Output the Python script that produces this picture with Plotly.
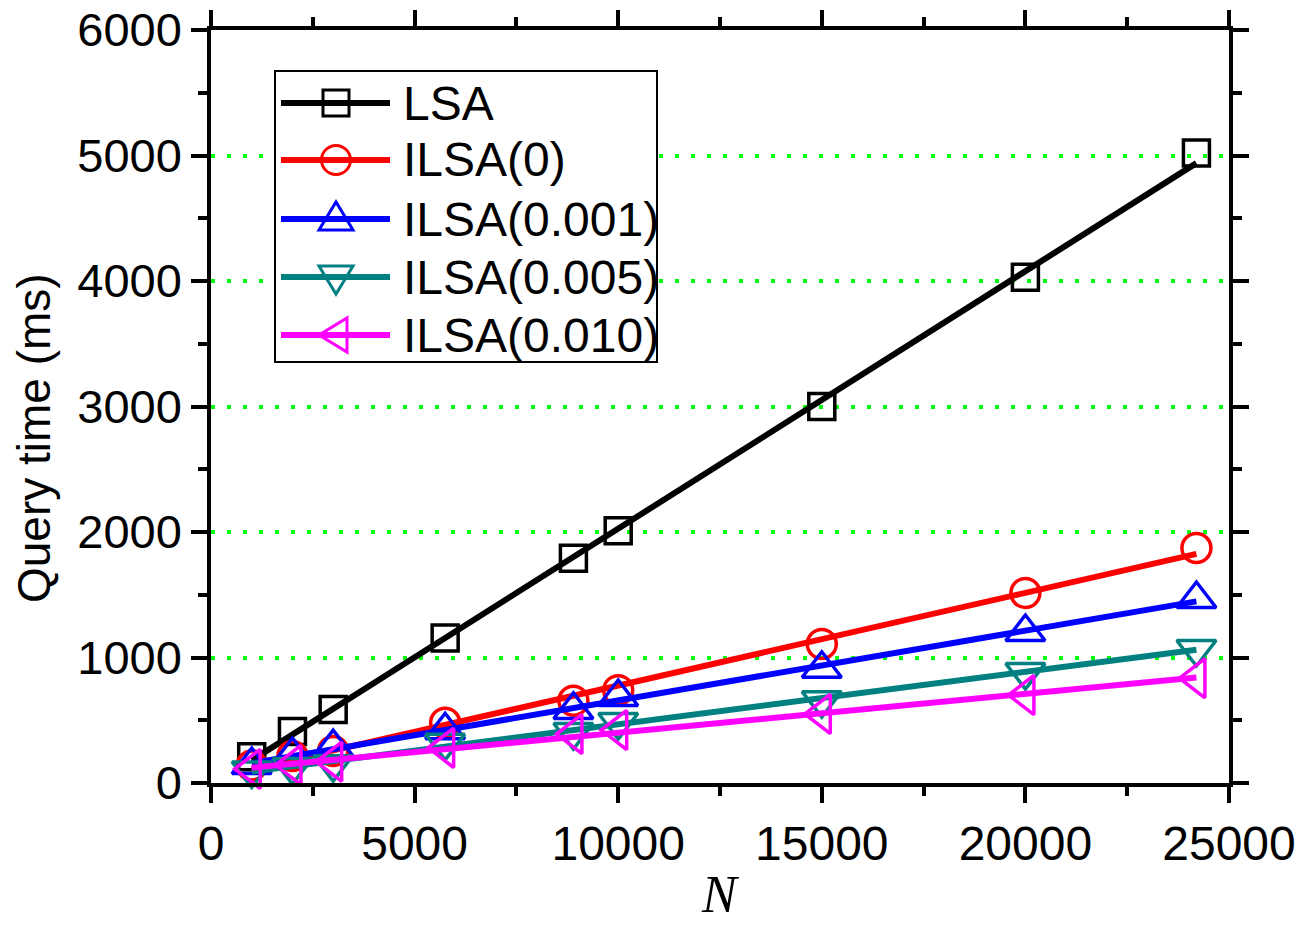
import numpy as np
import plotly.graph_objects as go

# ---- data -------------------------------------------------------------
N = [1000, 2000, 3000, 5750, 8900, 10000, 15000, 20000, 24200]

LSA = [210, 410, 585, 1155, 1790, 2010, 3000, 4030, 5020]
ILSA_0 = [140, 215, 255, 480, 655, 740, 1108, 1514, 1873]
ILSA_0001 = [143, 223, 285, 420, 582, 685, 910, 1203, 1466]
ILSA_0005 = [100, 127, 150, 320, 406, 486, 660, 884, 1068]
ILSA_0010 = [112, 143, 170, 280, 390, 422, 550, 701, 835]

SERIES_NAMES = ["LSA", "ILSA(0)", "ILSA(0.001)", "ILSA(0.005)", "ILSA(0.010)"]
X_TICKS = [0, 5000, 10000, 15000, 20000, 25000]
Y_TICKS = [0, 1000, 2000, 3000, 4000, 5000, 6000]

# ---- styles -----------------------------------------------------------
COLORS = ["#000000", "#FF0000", "#0000FF", "#008080", "#FF00FF"]
SYMBOLS = ["square-open", "circle-open", "triangle-up-open",
           "triangle-down-open", "triangle-left-open"]
SIZES = [26, 29, 34, 34, 34]
FONT = "Liberation Sans, Arial"

W, H = 1313, 926
ML, MR, MT, MB = 211, 84, 30, 143
PW, PH = W - ML - MR, H - MT - MB

fig = go.Figure()

values = [LSA, ILSA_0, ILSA_0001, ILSA_0005, ILSA_0010]
for name, vals, col, sym, sz in zip(SERIES_NAMES, values, COLORS, SYMBOLS, SIZES):
    # least-squares trend line over the measured range
    coef = np.polyfit(N, vals, 1)
    xs = [min(N), max(N)]
    fig.add_trace(go.Scatter(
        x=xs, y=list(np.polyval(coef, xs)), mode="lines",
        line=dict(color=col, width=6), showlegend=False, hoverinfo="skip"))
    fig.add_trace(go.Scatter(
        x=N, y=vals, mode="markers", name=name,
        marker=dict(symbol=sym, size=sz, color=col, line=dict(width=3.5, color=col)),
        showlegend=False, cliponaxis=False))

# ---- hand-drawn legend box (pixel layout inside the plot area) ---------
def px(xp):
    return (xp - ML) / PW

def py(yp):
    return (H - MB - yp) / PH

shapes = [dict(type="rect", xref="paper", yref="paper",
               x0=px(275), x1=px(657), y0=py(362), y1=py(71),
               fillcolor="white", line=dict(color="black", width=2), layer="above")]

row_y = [103, 160, 219, 277, 335]
line_x0, line_x1, mark_x, text_x = 281, 390, 336, 401

annotations = []
for i, (name, col) in enumerate(zip(SERIES_NAMES, COLORS)):
    yy = py(row_y[i])
    shapes.append(dict(type="line", xref="paper", yref="paper",
                       x0=px(line_x0), x1=px(line_x1), y0=yy, y1=yy,
                       line=dict(color=col, width=6), layer="above"))
    common = dict(xref="paper", yref="paper", xsizemode="pixel", ysizemode="pixel",
                  xanchor=px(mark_x), yanchor=yy, layer="above",
                  line=dict(color=col, width=3))
    if i == 0:
        shapes.append(dict(type="rect", x0=-13, x1=13, y0=-13, y1=13, **common))
    elif i == 1:
        shapes.append(dict(type="circle", x0=-14.5, x1=14.5, y0=-14.5, y1=14.5, **common))
    elif i == 2:
        shapes.append(dict(type="path", path="M-17,-11 L17,-11 L0,17 Z", **common))
    elif i == 3:
        shapes.append(dict(type="path", path="M-17,11 L17,11 L0,-17 Z", **common))
    else:
        shapes.append(dict(type="path", path="M11,-17 L11,17 L-17,0 Z", **common))
    annotations.append(dict(xref="paper", yref="paper", x=px(text_x), y=yy,
                            text=name, showarrow=False, xanchor="left", yanchor="middle",
                            font=dict(family=FONT, size=48, color="black")))

# axis titles placed as annotations
annotations.append(dict(xref="paper", yref="paper", x=px(34), y=py(438),
                        text="Query time (ms)", textangle=-90, showarrow=False,
                        xanchor="center", yanchor="middle",
                        font=dict(family=FONT, size=46, color="black")))
annotations.append(dict(xref="paper", yref="paper", x=0.5, y=py(894),
                        text="<i>N</i>", showarrow=False, borderpad=0,
                        xanchor="center", yanchor="middle",
                        font=dict(family="Liberation Serif, Times New Roman", size=52, color="black")))

fig.update_layout(
    width=W, height=H,
    margin=dict(l=ML, r=MR, t=MT, b=MB, autoexpand=False),
    paper_bgcolor="white", plot_bgcolor="white",
    showlegend=False,
    shapes=shapes, annotations=annotations,
    xaxis=dict(
        range=[0, 25000], tickvals=X_TICKS, ticktext=[str(v) for v in X_TICKS],
        ticks="outside", ticklen=16, tickwidth=3.5, tickcolor="black",
        showline=True, linewidth=3.5, linecolor="black", mirror="ticks",
        showgrid=False, zeroline=False, automargin=False,
        minor=dict(dtick=2500, ticks="outside", ticklen=9, tickwidth=3.5, tickcolor="black", showgrid=False),
        tickfont=dict(family=FONT, size=48, color="black"),
    ),
    yaxis=dict(
        range=[0, 6000], tickvals=Y_TICKS, ticktext=[str(v) for v in Y_TICKS],
        ticks="outside", ticklen=16, tickwidth=3.5, tickcolor="black",
        showline=True, linewidth=3.5, linecolor="black", mirror="ticks",
        showgrid=True, gridcolor="#00FF00", gridwidth=4, griddash="4px,12px",
        zeroline=False, automargin=False,
        minor=dict(dtick=500, ticks="outside", ticklen=9, tickwidth=3.5, tickcolor="black", showgrid=False),
        tickfont=dict(family=FONT, size=47, color="black"),
    ),
)

fig.write_html("out.html")
